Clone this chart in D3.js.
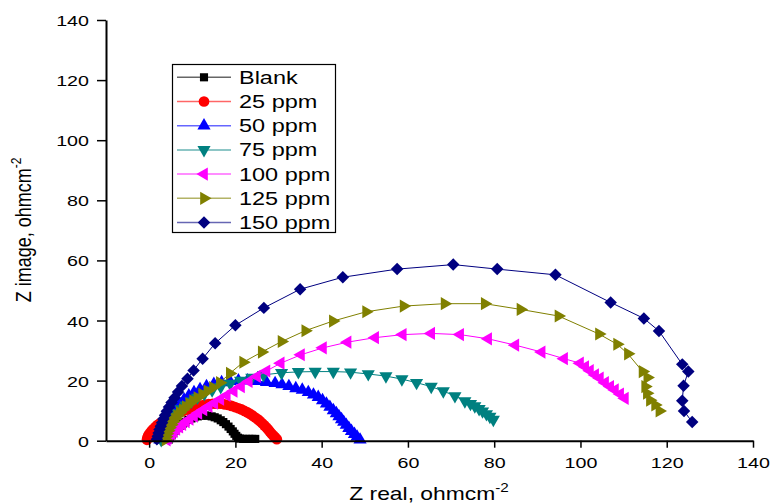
<!DOCTYPE html>
<html>
<head>
<meta charset="utf-8">
<script src="https://cdn.jsdelivr.net/npm/d3@7"></script>
<style>
  body { margin: 0; background: #fff; }
  svg text { font-family: "Liberation Sans", Arial, sans-serif; fill: #000; }
</style>
</head>
<body>
<div id="chart"></div>
<script>
// Nyquist data: [Z real, Z image]
var blankData = [[4.5,0.3],[4.8,1.0],[5.2,1.8],[5.6,2.6],[6.1,3.4],[6.6,4.2],[7.2,5.0],[7.8,5.7],[8.4,6.3],[9.1,6.9],[9.8,7.4],[10.5,7.8],[11.3,8.1],[12.1,8.3],[12.9,8.4],[13.7,8.3],[14.5,8.1],[15.2,7.8],[15.9,7.4],[16.6,6.8],[17.2,6.2],[17.8,5.5],[18.4,4.7],[18.9,3.9],[19.4,3.1],[19.8,2.3],[20.2,1.6],[20.6,1.0],[21.1,0.7],[21.8,0.6],[22.5,0.6],[23.2,0.6],[23.9,0.6],[24.6,0.6]];
var ppm25Data = [[-0.5,0.3],[-0.4,1.0],[-0.2,1.7],[0.1,2.4],[0.5,3.1],[0.9,3.8],[1.4,4.5],[1.9,5.2],[2.5,5.8],[3.1,6.4],[3.8,7.0],[4.5,7.6],[5.2,8.2],[6.0,8.7],[6.8,9.2],[7.6,9.7],[8.4,10.2],[9.3,10.6],[10.2,11.0],[11.1,11.4],[12.0,11.7],[12.9,12.0],[13.8,12.2],[14.7,12.3],[15.6,12.3],[16.5,12.3],[17.4,12.1],[18.3,11.9],[19.1,11.6],[19.9,11.2],[20.7,10.8],[21.4,10.4],[22.1,9.9],[22.8,9.4],[23.4,8.9],[24.0,8.3],[24.6,7.7],[25.2,7.1],[25.7,6.5],[26.2,5.8],[26.7,5.1],[27.2,4.4],[27.6,3.7],[28.0,3.0],[28.4,2.3],[28.8,1.7],[29.2,1.1],[29.6,0.5]];
var ppm50Data = [[2.5,0.3],[2.7,1.3],[2.9,2.3],[3.2,3.5],[3.5,4.7],[3.9,5.9],[4.4,7.1],[5.0,8.5],[5.6,9.8],[6.3,11.0],[7.1,12.3],[8.1,13.7],[9.2,15.0],[10.4,16.1],[11.8,17.1],[13.3,18.1],[15.0,18.8],[16.8,19.4],[18.7,19.8],[20.7,20.0],[22.8,20.0],[25.0,19.8],[27.2,19.5],[29.2,19.1],[30.8,18.7],[32.4,18.1],[34.0,17.4],[35.5,16.9],[36.9,16.1],[38.1,15.3],[39.2,14.5],[40.2,13.4],[41.1,12.3],[41.9,11.2],[42.7,10.1],[43.4,9.1],[44.0,8.1],[44.6,7.1],[45.1,6.2],[45.7,5.2],[46.3,4.2],[46.9,3.2],[47.6,2.2],[48.2,1.3],[48.9,0.3]];
var ppm75Data = [[2.8,0.3],[3.0,1.5],[3.3,2.8],[3.7,4.0],[4.2,5.3],[4.8,6.6],[5.5,7.9],[6.4,9.2],[7.4,10.5],[8.5,11.8],[9.8,13.1],[11.2,14.4],[12.8,15.6],[14.6,16.8],[16.6,17.9],[18.8,19.0],[21.2,20.0],[23.8,21.0],[26.5,21.9],[30.7,22.6],[34.6,22.9],[38.5,23.0],[42.7,23.0],[46.7,22.8],[50.8,22.2],[54.9,21.5],[58.6,20.5],[62.0,19.3],[65.4,18.0],[68.2,16.5],[70.9,14.9],[73.2,13.2],[74.5,12.3],[75.5,11.5],[76.5,10.6],[77.3,9.8],[78.2,8.9],[79.0,8.0],[79.8,7.0]];
var ppm100Data = [[4.1,0.3],[4.4,0.9],[4.8,1.6],[5.2,2.3],[5.7,3.0],[6.3,3.8],[7.0,4.6],[7.7,5.4],[8.5,6.3],[9.4,7.2],[10.4,8.2],[11.4,9.2],[12.6,10.3],[13.8,11.4],[15.1,12.5],[16.5,13.8],[18.0,15.1],[19.6,16.5],[21.3,18.0],[23.1,19.7],[25.0,21.4],[27.2,23.2],[30.5,25.8],[35.2,28.6],[40.3,30.9],[46.0,32.8],[52.4,34.3],[58.8,35.3],[65.4,35.7],[72.1,35.3],[78.6,33.9],[84.9,31.8],[91.0,29.5],[96.2,27.3],[99.9,25.8],[101.1,24.6],[102.2,23.3],[103.4,21.9],[104.5,20.8],[105.7,19.3],[106.9,18.0],[108.0,16.9],[109.2,15.5],[110.3,14.1]];
var ppm125Data = [[3.8,0.3],[3.9,1.3],[4.1,2.3],[4.4,3.3],[4.7,4.3],[5.1,5.3],[5.5,6.3],[6.0,7.3],[6.5,8.3],[7.1,9.3],[7.8,10.3],[8.5,11.3],[9.3,12.3],[10.2,13.3],[11.2,14.3],[12.3,15.4],[13.5,16.5],[14.8,17.7],[16.4,19.3],[18.7,22.4],[21.8,26.1],[26.1,29.5],[30.7,33.0],[36.2,36.6],[42.6,39.8],[50.3,42.9],[59.0,44.8],[68.5,45.6],[77.8,45.6],[86.1,43.7],[94.9,41.5],[104.3,35.5],[108.5,32.1],[111.0,28.9],[114.4,23.0],[115.5,21.0],[115.0,18.0],[115.4,15.8],[116.1,13.5],[117.3,11.9],[118.3,9.9]];
var ppm150Data = [[1.8,0.5],[2.0,1.5],[2.2,2.6],[2.4,3.7],[2.7,4.8],[3.0,6.0],[3.3,7.2],[3.7,8.5],[4.1,9.8],[4.6,11.2],[5.2,12.7],[5.9,14.3],[6.7,16.2],[7.6,18.2],[8.9,20.6],[10.3,23.4],[12.4,27.3],[15.3,32.4],[20.0,38.4],[26.6,44.2],[35.0,50.4],[44.9,54.4],[57.5,57.1],[70.5,58.6],[80.7,57.1],[94.2,55.2],[107.0,46.0],[114.7,40.7],[118.2,36.5],[123.6,25.4],[125.0,23.0],[123.9,18.3],[123.6,13.3],[124.0,9.9],[125.9,6.2]];

var seriesNames = ['Blank', '25 ppm', '50 ppm', '75 ppm', '100 ppm', '125 ppm', '150 ppm'];
var seriesColors = ['#000000', '#ff0000', '#0000ff', '#008080', '#ff00ff', '#808000', '#000080'];
var xMajorTicks = [0, 20, 40, 60, 80, 100, 120, 140];
var xMinorTicks = [-10, 10, 30, 50, 70, 90, 110, 130];
var yMajorTicks = [0, 20, 40, 60, 80, 100, 120, 140];
var yMinorTicks = [10, 30, 50, 70, 90, 110, 130];

var allSeries = [blankData, ppm25Data, ppm50Data, ppm75Data, ppm100Data, ppm125Data, ppm150Data];

// Layout parameters
var width = 771, height = 504;
var stretch = 1.27; // text in the picture is widened horizontally
var x = d3.scaleLinear().domain([-10, 140]).range([106, 753]);
var y = d3.scaleLinear().domain([0, 140]).range([440.7, 20]);

var svg = d3.select('#chart').append('svg')
  .attr('width', width)
  .attr('height', height);

// Marker shapes: square, circle, up, down, left, right triangles, diamond
var markers = [
  {type: d3.symbolSquare, size: 66, rot: 0},
  {type: d3.symbolCircle, size: 90, rot: 0},
  {type: d3.symbolTriangle, size: 75, rot: 0},
  {type: d3.symbolTriangle, size: 75, rot: 180},
  {type: d3.symbolTriangle, size: 75, rot: -90},
  {type: d3.symbolTriangle, size: 75, rot: 90},
  {type: d3.symbolSquare, size: 78, rot: 45}
];

function drawMarker(g, i, cx, cy) {
  var m = markers[i];
  g.append('path')
    .attr('d', d3.symbol().type(m.type).size(m.size)())
    .attr('transform', 'translate(' + cx + ',' + cy + ') rotate(' + m.rot + ')')
    .attr('fill', seriesColors[i]);
}

var line = d3.line()
  .x(function(d) { return x(d[0]); })
  .y(function(d) { return y(d[1]); });

// Series
allSeries.forEach(function(data, i) {
  var g = svg.append('g').attr('class', 'series');
  g.append('path')
    .attr('d', line(data))
    .attr('fill', 'none')
    .attr('stroke', seriesColors[i])
    .attr('stroke-width', 1);
  data.forEach(function(d) { drawMarker(g, i, x(d[0]), y(d[1])); });
});

// Axes
var xAxis = d3.axisBottom(x).tickValues(xMajorTicks).tickSize(7).tickSizeOuter(0);
var xMinor = d3.axisBottom(x).tickValues(xMinorTicks).tickSize(4).tickSizeOuter(0).tickFormat('');
var yAxis = d3.axisLeft(y).tickValues(yMajorTicks).tickSize(9).tickSizeOuter(0);
var yMinor = d3.axisLeft(y).tickValues(yMinorTicks).tickSize(5).tickSizeOuter(0).tickFormat('');

var gx = svg.append('g').attr('transform', 'translate(0,' + y(0) + ')');
gx.call(xMinor);
gx.call(xAxis);
var gy = svg.append('g').attr('transform', 'translate(' + x(-10) + ',0)');
gy.call(yMinor);
gy.call(yAxis);

svg.selectAll('.domain').attr('stroke', '#000').attr('stroke-width', 2);
svg.selectAll('.tick line').attr('stroke', '#000').attr('stroke-width', 1.5);

gx.selectAll('.tick text')
  .attr('y', 0).attr('dy', null)
  .attr('font-size', 15.5)
  .attr('transform', 'translate(0,27) scale(' + stretch + ',1)');
gy.selectAll('.tick text')
  .attr('x', 0).attr('dy', null)
  .attr('font-size', 15.5)
  .attr('transform', 'translate(-17,5.5) scale(' + stretch + ',1)');

// Axis titles
var xTitle = svg.append('text')
  .attr('text-anchor', 'middle')
  .attr('font-size', 18)
  .attr('transform', 'translate(429,500) scale(' + stretch + ',1)');
xTitle.append('tspan').text('Z real, ohmcm');
xTitle.append('tspan').attr('font-size', 12).attr('dy', -8).text('-2');

var yTitle = svg.append('text')
  .attr('text-anchor', 'middle')
  .attr('font-size', 18)
  .attr('transform', 'translate(31,230) scale(' + stretch + ',1) rotate(-90)');
yTitle.append('tspan').text('Z image, ohmcm');
yTitle.append('tspan').attr('font-size', 12).attr('dy', -8).text('-2');

// Legend
var legend = svg.append('g').attr('class', 'legend');
legend.append('rect')
  .attr('x', 172.5).attr('y', 64.5)
  .attr('width', 163).attr('height', 168)
  .attr('fill', '#fff')
  .attr('stroke', '#000')
  .attr('stroke-width', 1.2);
seriesNames.forEach(function(name, i) {
  var cy = 77.3 + i * 24.2;
  legend.append('line')
    .attr('x1', 177).attr('x2', 231)
    .attr('y1', cy).attr('y2', cy)
    .attr('stroke', seriesColors[i])
    .attr('stroke-opacity', 0.6)
    .attr('stroke-width', 1.5);
  drawMarker(legend, i, 204, cy);
  legend.append('text')
    .attr('font-size', 18.5)
    .attr('transform', 'translate(239,' + (cy + 6.5) + ') scale(' + stretch + ',1)')
    .text(name);
});
</script>
</body>
</html>
